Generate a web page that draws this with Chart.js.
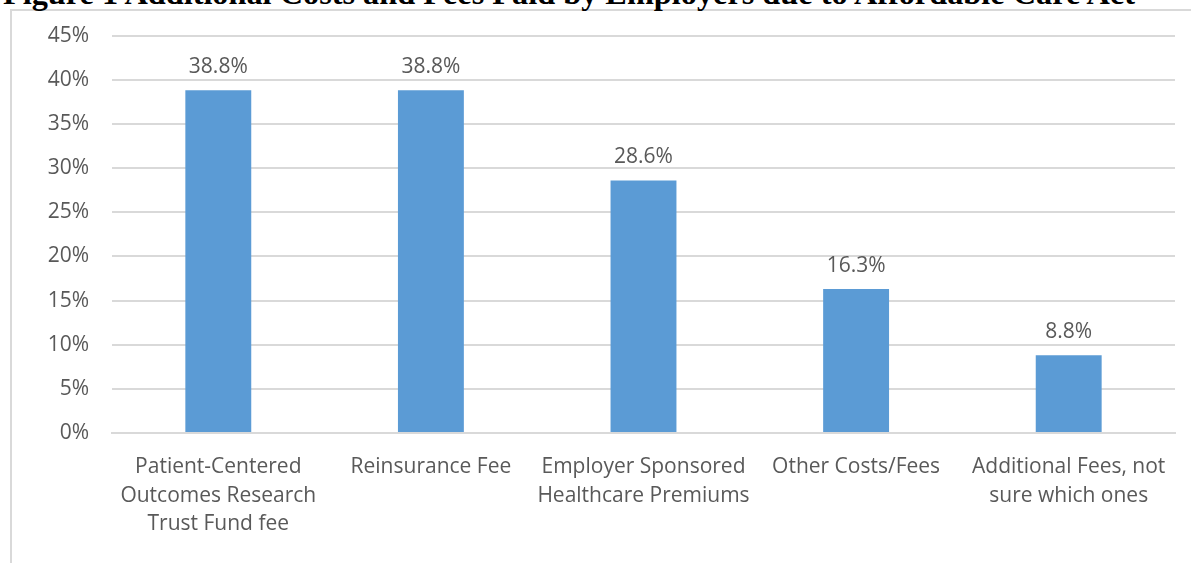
<!DOCTYPE html>
<html>
<head>
<meta charset="utf-8">
<script src="https://cdn.jsdelivr.net/npm/chart.js@4"></script>
<style>
  html, body { margin: 0; padding: 0; background: #fff; }
  body { width: 1191px; height: 563px; position: relative; overflow: hidden; }
  #title {
    position: absolute; left: 3px; top: -23px; margin: 0;
    font-family: "Liberation Serif", "Times New Roman", serif;
    font-weight: bold; font-size: 32.3px; line-height: 32px; color: #000; white-space: nowrap;
  }
  #frame {
    position: absolute; left: 10px; top: 9px; width: 1200px; height: 600px;
    border-left: 2px solid #d9d9d9; border-top: 2px solid #d9d9d9;
  }
  #wrap { position: absolute; left: 0; top: 0; width: 1191px; height: 563px; }
</style>
</head>
<body>
<div id="frame"></div>
<p id="title">Figure 1 Additional Costs and Fees Paid by Employers due to Affordable Care Act</p>
<div id="wrap"><canvas id="chart" width="1191" height="563"></canvas></div>
<script>
// Chart data
const categories = [
    ['Patient-Centered', 'Outcomes Research', 'Trust Fund fee'],
    ['Reinsurance Fee'],
    ['Employer Sponsored', 'Healthcare Premiums'],
    ['Other Costs/Fees'],
    ['Additional Fees, not', 'sure which ones']
];
const shares = [38.8, 38.8, 28.6, 16.3, 8.8];
const yTicks = [0, 5, 10, 15, 20, 25, 30, 35, 40, 45];

const textColor = '#595959';
const fontFamily = '"Open Sans", "Noto Sans", sans-serif';

// value labels above each bar
const barLabels = {
    id: 'barLabels',
    afterDatasetsDraw(chart) {
        const ctx = chart.ctx;
        const meta = chart.getDatasetMeta(0);
        ctx.save();
        ctx.fillStyle = textColor;
        ctx.font = '21px ' + fontFamily;
        ctx.textAlign = 'center';
        ctx.textBaseline = 'alphabetic';
        meta.data.forEach((bar, i) => {
            ctx.fillText(shares[i].toFixed(1) + '%', bar.x, bar.y - 17);
        });
        ctx.restore();
    }
};

new Chart(document.getElementById('chart').getContext('2d'), {
    type: 'bar',
    data: {
        labels: categories,
        datasets: [{
            data: shares,
            backgroundColor: '#5b9bd5',
            barPercentage: 0.62,
            categoryPercentage: 0.5
        }]
    },
    options: {
        responsive: false,
        animation: false,
        layout: { padding: { top: 33, right: 16, bottom: 0, left: 0 } },
        plugins: {
            legend: { display: false },
            tooltip: { enabled: false }
        },
        scales: {
            x: {
                grid: { display: false, drawTicks: false },
                border: { color: '#d9d9d9', width: 2 },
                ticks: {
                    color: textColor,
                    font: { family: fontFamily, size: 21, lineHeight: 1.36 },
                    padding: 20,
                    maxRotation: 0,
                    autoSkip: false
                },
                afterFit: s => { s.height = 130; }
            },
            y: {
                min: 0,
                max: 45,
                afterBuildTicks: s => { s.ticks = yTicks.map(v => ({ value: v })); },
                grid: { color: '#d9d9d9', lineWidth: 2, drawTicks: false },
                border: { display: false },
                ticks: {
                    color: textColor,
                    font: { family: fontFamily, size: 21 },
                    padding: 23,
                    callback: v => v + '%'
                },
                afterFit: s => { s.width = 112; }
            }
        }
    },
    plugins: [barLabels]
});
</script>
</body>
</html>
